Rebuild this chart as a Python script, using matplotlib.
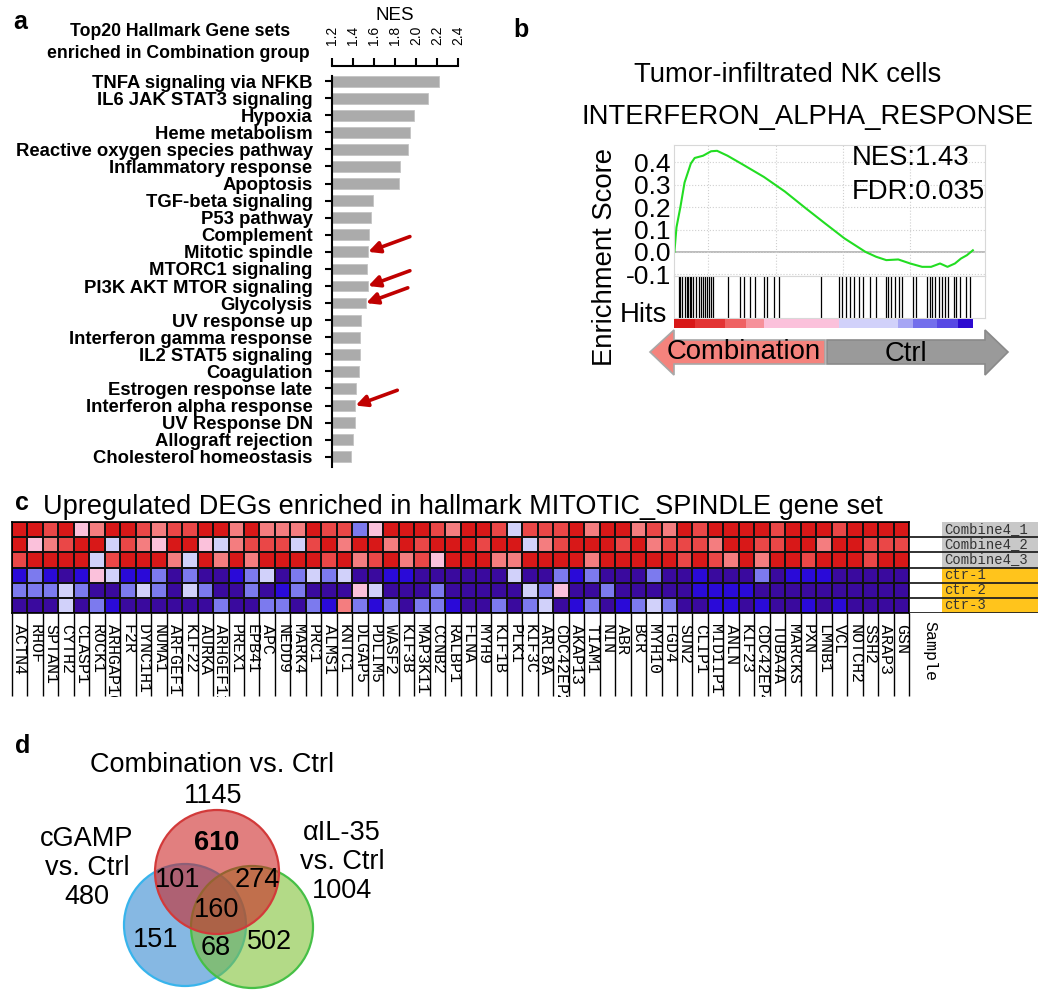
import numpy as np
import matplotlib
matplotlib.use('Agg')
import matplotlib.pyplot as plt
from matplotlib.colors import LinearSegmentedColormap, to_rgba
from matplotlib.patches import Circle, Polygon
from matplotlib.transforms import Bbox, TransformedBbox

plt.rcParams['font.family'] = ['Liberation Sans', 'DejaVu Sans']

W, H = 1050, 994
fig = plt.figure(figsize=(W / 100, H / 100), dpi=100)


def pax(l, t, r, b):
    # axes placed with pixel edges (from top-left)
    return fig.add_axes([l / W, 1 - b / H, (r - l) / W, (b - t) / H])


def ftext(x, y, s, **kw):
    return fig.text(x / W, 1 - y / H, s, **kw)


# ---------------- data ----------------
# panel a
hallmarks = ['TNFA signaling via NFKB', 'IL6 JAK STAT3 signaling', 'Hypoxia',
             'Heme metabolism', 'Reactive oxygen species pathway',
             'Inflammatory response', 'Apoptosis', 'TGF-beta signaling',
             'P53 pathway', 'Complement', 'Mitotic spindle', 'MTORC1 signaling',
             'PI3K AKT MTOR signaling', 'Glycolysis', 'UV response up',
             'Interferon gamma response', 'IL2 STAT5 signaling', 'Coagulation',
             'Estrogen response late', 'Interferon alpha response',
             'UV Response DN', 'Allograft rejection', 'Cholesterol homeostasis']
nes = [2.22, 2.11, 1.98, 1.94, 1.92, 1.85, 1.84, 1.59, 1.57, 1.55, 1.54, 1.53,
       1.54, 1.52, 1.48, 1.47, 1.47, 1.46, 1.43, 1.42, 1.42, 1.40, 1.38]
marked = ['Mitotic spindle', 'PI3K AKT MTOR signaling', 'Glycolysis',
          'Interferon alpha response']
nes_ticks = [1.2, 1.4, 1.6, 1.8, 2.0, 2.2, 2.4]

# panel b (x = position in ranked list, %)
es_x = [0, 0.7, 2, 3.4, 5.5, 6.8, 9.6, 12.3, 14.3, 17.8, 23, 30, 37, 44, 50.5,
        57, 64, 67.6, 71, 75, 79, 83, 86, 89, 91.5, 94, 96, 98, 100]
es_y = [0, 0.11, 0.2, 0.31, 0.395, 0.42, 0.43, 0.45, 0.452, 0.43, 0.39, 0.335,
        0.27, 0.195, 0.127, 0.06, 0.0, -0.022, -0.037, -0.034, -0.052, -0.067,
        -0.067, -0.052, -0.067, -0.052, -0.03, -0.015, 0.007]
hits = [1.4, 1.8, 2.5, 3.4, 4.1, 4.5, 5.2, 5.7, 6.3, 7.4, 8.2, 8.9, 9.6, 10.2,
        10.9, 11.6, 12.3, 13.0, 17.8, 21.9, 23.2, 25.3, 27.0, 30.1, 31.1, 33.5,
        35.2, 49.2, 55.3, 56.3, 57.4, 58.7, 60.1, 61.7, 63.1, 65.6, 67.6, 70.8,
        71.7, 72.7, 73.8, 75.1, 76.2, 79.9, 80.9, 84.7, 85.5, 86.3, 87.4, 88.5,
        89.5, 90.8, 91.8, 93.6, 94.5, 95.6, 97.7, 99.0]
rank_edges = [0, 7, 17, 24, 30, 55, 75, 80, 88, 95, 100]
rank_metric = [3, 2.4, 1.6, 1.0, 0.5, -0.5, -0.9, -1.4, -1.7, -2.3]
nes_b, fdr_b = 1.43, 0.035

# panel c
genes = ['ACTN4', 'RHOF', 'SPTAN1', 'CYTH2', 'CLASP1', 'ROCK1', 'ARHGAP10', 'F2R',
         'DYNC1H1', 'NUMA1', 'ARFGEF1', 'KIF22', 'AURKA', 'ARHGEF11', 'PREX1',
         'EPB41', 'APC', 'NEDD9', 'MARK4', 'PRC1', 'ALMS1', 'KNTC1', 'DLGAP5',
         'PDLIM5', 'WASF2', 'KIF3B', 'MAP3K11', 'CCNB2', 'RALBP1', 'FLNA', 'MYH9',
         'KIF1B', 'PLK1', 'KIF3C', 'ARL8A', 'CDC42EP2', 'AKAP13', 'TIAM1', 'NIN',
         'ABR', 'BCR', 'MYH10', 'FGD4', 'SUN2', 'CLIP1', 'MID1IP1', 'ANLN',
         'KIF23', 'CDC42EP4', 'TUBA4A', 'MARCKS', 'PXN', 'LMNB1', 'VCL', 'NOTCH2',
         'SSH2', 'ARAP3', 'GSN']
samples = ['Combine4_1', 'Combine4_2', 'Combine4_3', 'ctr-1', 'ctr-2', 'ctr-3']
sample_group = ['comb', 'comb', 'comb', 'ctrl', 'ctrl', 'ctrl']
# expression level codes (R dark red ... d dark blue)
level = {'R': 3, 'r': 2, 'p': 1.2, 'k': 0.5, 'l': -0.5, 'm': -1.3, 'b': -2.2, 'd': -3}
expr_rows = [
    'RRrRkpRRrp' 'rrRRpRpppR' 'rrmkRRRrpR' 'RrlrrrRpRR' 'prpRrRRRRr' 'RRRrRRRR',
    'RkprRRlrpk' 'RRklprrrlr' 'RpRRpRrRRR' 'rRRlprRRRr' 'RprrrpRRrr' 'RRpRRrrr',
    'rRRRRlrRRR' 'plRpRpRRRR' 'rRprRprkRR' 'RppRRRRpRR' 'RRRrRrpRpR' 'RrRRRrRR',
    'bmbdbklbbm' 'dmddbmldml' 'mlddbbdddd' 'ddlddmbmdd' 'dmddbdddmd' 'bbbddddd',
    'mmmlmddmlm' 'dlmddmdbmd' 'ddkldddmdd' 'dddlmkddmd' 'ddddbbbbdd' 'dddddddd',
    'dddldmbddd' 'dddmddmmdm' 'bpmbmdmmbd' 'dmdmldbmdb' 'mlmddbbdbd' 'dbdbdddd',
]

# panel d
venn_sets = ['Combination vs. Ctrl', 'cGAMP\nvs. Ctrl', '\u03b1IL-35\nvs. Ctrl']
venn_totals = [1145, 480, 1004]
venn_regions = {'C': 610, 'CG': 101, 'CI': 274, 'CGI': 160, 'G': 151, 'GI': 68, 'I': 502}

# ---------------- colours ----------------
gsea_cmap = LinearSegmentedColormap.from_list('gsea', [
    (0.0, '#3a0a9e'), (0.133, '#2a0ad8'), (0.283, '#7c7aee'), (0.417, '#d2d2fa'),
    (0.5, '#f3e3f5'), (0.583, '#fbc2dc'), (0.7, '#f47e80'), (0.833, '#ea4848'),
    (1.0, '#d81818')])
mono = ['Liberation Mono', 'DejaVu Sans Mono']

# ================= panel a =================
ftext(20, 22, 'a', fontsize=18, fontweight='bold', ha='center', va='center')
ftext(180, 31, 'Top20 Hallmark Gene sets', fontsize=12.7, fontweight='bold',
      ha='center', va='center')
ftext(178, 54, 'enriched in Combination group', fontsize=12.7, fontweight='bold',
      ha='center', va='center')

ax = pax(332, 76, 458, 467)
ypos = np.arange(len(hallmarks))
ax.barh(ypos, np.array(nes) - 1.2, left=1.2, height=0.63, color='#ababab',
        edgecolor='#c4c4c4', linewidth=0.6)
ax.set_xlim(1.2, 2.4)
ax.set_ylim(22.6, -0.3)
ax.set_yticks(ypos, hallmarks, fontsize=13.3, fontweight='bold')
ax.xaxis.tick_top()
ax.xaxis.set_label_position('top')
ax.set_xticks(nes_ticks, [f'{t:.1f}' for t in nes_ticks])
ax.tick_params(axis='x', labelrotation=90, labelsize=10)
for t in ax.xaxis.get_major_ticks():
    t.label2.set_fontweight('bold')
ax.set_xlabel('NES', fontsize=13.5, labelpad=4)
ax.spines['right'].set_visible(False)
ax.spines['bottom'].set_visible(False)
ax.spines['top'].set_position(('outward', 7))
for s in ['left', 'top']:
    ax.spines[s].set_linewidth(1.5)
ax.tick_params(axis='y', length=5, width=1.5, pad=9)
ax.tick_params(axis='x', length=6, width=1.5, pad=9)
for name in marked:
    i = hallmarks.index(name)
    ax.annotate('', xy=(nes[i] + 0.005, i), xytext=(30, 11), textcoords='offset points',
                arrowprops=dict(arrowstyle='-|>', color='#c00000', lw=2.6,
                                mutation_scale=17, shrinkA=0, shrinkB=0))

# ================= panel b =================
ftext(521, 30, 'b', fontsize=18, fontweight='bold', ha='center', va='center')
ftext(788, 75, 'Tumor-infiltrated NK cells', fontsize=19.8, ha='center', va='center')
ftext(808, 117, 'INTERFERON_ALPHA_RESPONSE', fontsize=19.8, ha='center', va='center')

bl, br = 673.6, 985.4
xl = (-0.27, 104.2)
axe = pax(bl, 145, br, 276)
axe.plot(es_x, es_y, color='#22dd22', lw=1.5)
axe.axhline(0, color='#b0b0b0', lw=1.2, zorder=0)
axe.set_xlim(*xl)
axe.set_ylim(-0.108, 0.478)
axe.set_yticks([-0.1, 0.0, 0.1, 0.2, 0.3, 0.4])
axe.set_yticklabels(['-0.1', '0.0', '0.1', '0.2', '0.3', '0.4'], fontsize=19)
axe.set_xticks([11.3, 33.9, 56.5, 79.1])
axe.tick_params(length=0, pad=2, labelbottom=False)
axe.grid(True, color='#cfcfcf', ls=':', lw=0.8)
for s in axe.spines.values():
    s.set_color('#d8d8d8')
axe.text(0.572, 0.9, f'NES:{nes_b:.2f}', transform=axe.transAxes, fontsize=19.8,
         va='center')
axe.text(0.572, 0.64, f'FDR:{fdr_b:.3f}', transform=axe.transAxes, fontsize=19.8,
         va='center')
ftext(605, 257, 'Enrichment Score', fontsize=19.8, rotation=90, ha='center', va='center')

axh = pax(bl, 276, br, 318)
axh.vlines(hits, 0, 1, color='black', lw=0.9)
axh.set_xlim(*xl)
axh.set_ylim(0, 1)
axh.set_xticks([])
axh.set_yticks([])
for s in axh.spines.values():
    s.set_color('#d8d8d8')
ftext(667, 315, 'Hits', fontsize=19.8, ha='right', va='center')

axr = pax(bl, 319, br, 328)
axr.pcolormesh(rank_edges, [0, 1], [rank_metric], cmap=gsea_cmap, vmin=-3, vmax=3)
axr.set_xlim(*xl)
axr.axis('off')

axa = pax(600, 326, 1020, 380)
axa.set_xlim(600, 1020)
axa.set_ylim(380, 326)
axa.axis('off')
axa.add_patch(Polygon([(650, 352), (674, 330), (674, 340), (825, 340), (825, 364),
                       (674, 364), (674, 375)], closed=True, fc='#f4837d',
                      ec='#a8a8a8', lw=1.2))
axa.add_patch(Polygon([(1008, 352), (985, 330), (985, 340), (827, 340), (827, 364),
                       (985, 364), (985, 375)], closed=True, fc='#9a9a9a',
                      ec='#8a8a8a', lw=1.2))
axa.text(744, 352, 'Combination', fontsize=19.8, ha='center', va='center')
axa.text(906, 354, 'Ctrl', fontsize=19.8, ha='center', va='center')

# ================= panel c =================
ftext(22, 503, 'c', fontsize=18, fontweight='bold', ha='center', va='center')
ftext(43, 514, 'Upregulated DEGs enriched in hallmark MITOTIC_SPINDLE gene set',
      fontsize=19.5, ha='left', va='baseline')

Z = np.array([[level[ch] for ch in row] for row in expr_rows])
axc = pax(12, 521.7, 909, 613.3)
axc.pcolormesh(np.arange(len(genes) + 1), np.arange(len(samples) + 1), Z,
               cmap=gsea_cmap, vmin=-3, vmax=3, edgecolors='#111111', linewidth=1.1)
axc.set_xlim(0, len(genes))
axc.set_ylim(len(samples), 0)
axc.set_yticks([])
axc.set_xticks(np.arange(len(genes)) + 0.5, genes, rotation=270, fontsize=12,
               family=mono, va='top', ha='center')
axc.set_xticks(np.arange(len(genes) + 1), minor=True)
axc.tick_params(axis='x', which='major', length=0, pad=8)
axc.tick_params(axis='x', which='minor', length=60, width=1, color='black')
for s in axc.spines.values():
    s.set_linewidth(1.2)
clip = TransformedBbox(Bbox([[0, 1 - 697 / H], [1, 1]]), fig.transFigure)
for lbl in axc.get_xticklabels():
    lbl.set_clip_box(clip)
    lbl.set_clip_on(True)
smp = ftext(930, 621, 'Sample', fontsize=12, rotation=270, ha='center', va='top',
            family=mono)
smp.set_clip_box(clip)
smp.set_clip_on(True)

axs = pax(909, 521.7, 1038, 613.3)
axs.set_xlim(909, 1038)
axs.set_ylim(len(samples), 0)
axs.axis('off')
box_col = {'comb': '#c8c8c8', 'ctrl': '#ffc41c'}
rows = np.arange(len(samples)) + 0.5
axs.barh(rows, 96, left=942, height=1.0, color=[box_col[g] for g in sample_group])
axs.hlines(np.arange(1, len(samples) + 1), 909, 1038, color='#222222', lw=1.3)
for i, s in enumerate(samples):
    axs.text(944, i + 0.93, s, fontsize=10, va='bottom', ha='left', color='#333333',
             family=mono)

# ================= panel d =================
ftext(23, 746, 'd', fontsize=18, fontweight='bold', ha='center', va='center')
axd = pax(0, 700, 420, 994)
axd.set_xlim(0, 420)
axd.set_ylim(994, 700)
axd.axis('off')
circles = [((185, 925), 61, '#2f86d0', '#38b4ec'),
           ((252, 927), 61, '#7cc030', '#46c046'),
           ((217, 872), 62, '#cc2222', '#d23a3a')]
for (cx, cy), r, fc, ec in circles:
    axd.add_patch(Circle((cx, cy), r, fc=to_rgba(fc, 0.58), ec=ec, lw=1.6))

fs_d = 19.5
axd.text(212, 765, venn_sets[0], fontsize=fs_d, ha='center', va='center')
axd.text(213, 796, str(venn_totals[0]), fontsize=fs_d, ha='center', va='center')
axd.text(87, 868, f'{venn_sets[1]}\n{venn_totals[1]}', fontsize=fs_d, ha='center',
         va='center', linespacing=1.15)
axd.text(342, 862, f'{venn_sets[2]}\n{venn_totals[2]}', fontsize=fs_d, ha='center',
         va='center', linespacing=1.15)
region_pos = {'C': (217, 843), 'CG': (178, 880), 'CI': (257, 880), 'CGI': (217, 910),
              'G': (156, 940), 'GI': (216, 948), 'I': (270, 942)}
for key, n in venn_regions.items():
    axd.text(*region_pos[key], str(n), fontsize=fs_d, ha='center', va='center',
             fontweight='bold' if key == 'C' else 'normal')

fig.savefig('out.png', dpi=100)
